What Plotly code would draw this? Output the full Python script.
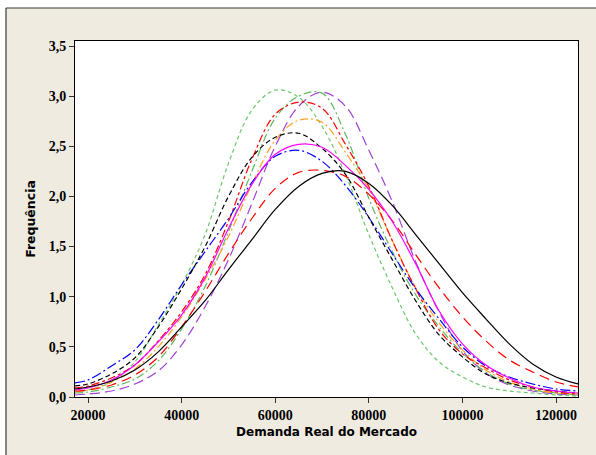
import plotly.graph_objects as go

# Data (x: Demanda Real do Mercado, y: Frequência)
demanda = [17200, 20000, 25000, 30000, 35000, 40000, 45000, 50000, 55000, 60000, 65000,
           70000, 75000, 80000, 85000, 90000, 95000, 100000, 105000, 110000, 115000, 120000, 124700]

black_solid = [0.08, 0.10, 0.16, 0.27, 0.45, 0.70, 0.96, 1.27, 1.57, 1.87, 2.10, 2.23, 2.25, 2.13, 1.91, 1.62, 1.33, 1.04, 0.78, 0.53, 0.33, 0.20, 0.13]
red_longdash = [0.06, 0.07, 0.12, 0.22, 0.40, 0.70, 1.05, 1.43, 1.78, 2.08, 2.24, 2.26, 2.20, 2.02, 1.76, 1.42, 1.09, 0.80, 0.56, 0.37, 0.25, 0.15, 0.10]
magenta_solid = [0.07, 0.09, 0.17, 0.32, 0.55, 0.82, 1.19, 1.68, 2.12, 2.42, 2.52, 2.49, 2.31, 2.07, 1.75, 1.33, 0.86, 0.53, 0.32, 0.19, 0.10, 0.06, 0.04]
blue_dashdot = [0.14, 0.17, 0.31, 0.47, 0.77, 1.12, 1.45, 1.78, 2.14, 2.40, 2.46, 2.35, 2.11, 1.79, 1.43, 1.08, 0.78, 0.50, 0.31, 0.20, 0.13, 0.08, 0.06]
black_dash = [0.11, 0.13, 0.23, 0.39, 0.70, 1.08, 1.50, 2.00, 2.39, 2.59, 2.63, 2.48, 2.22, 1.79, 1.37, 0.96, 0.62, 0.40, 0.23, 0.14, 0.09, 0.06, 0.04]
red_dashdot = [0.09, 0.11, 0.19, 0.32, 0.56, 0.85, 1.22, 1.75, 2.37, 2.82, 2.94, 2.88, 2.52, 2.10, 1.56, 1.08, 0.67, 0.43, 0.29, 0.17, 0.10, 0.05, 0.03]
orange_dashdot = [0.05, 0.07, 0.15, 0.28, 0.50, 0.80, 1.17, 1.60, 2.12, 2.56, 2.76, 2.74, 2.44, 2.07, 1.56, 1.09, 0.74, 0.47, 0.27, 0.15, 0.08, 0.04, 0.03]
green_dashdot = [0.04, 0.05, 0.10, 0.18, 0.36, 0.68, 1.10, 1.65, 2.25, 2.78, 3.00, 3.03, 2.62, 1.98, 1.45, 1.02, 0.70, 0.44, 0.25, 0.13, 0.07, 0.04, 0.02]
green_shortdash = [0.05, 0.07, 0.15, 0.35, 0.72, 1.12, 1.62, 2.33, 2.86, 3.06, 2.99, 2.70, 2.22, 1.62, 1.09, 0.63, 0.35, 0.20, 0.10, 0.06, 0.04, 0.02, 0.01]
purple_longdash = [0.02, 0.03, 0.06, 0.13, 0.26, 0.52, 0.90, 1.37, 1.93, 2.50, 2.90, 3.04, 2.90, 2.46, 1.95, 1.35, 0.85, 0.46, 0.24, 0.12, 0.06, 0.03, 0.02]

x_ticks = [20000, 40000, 60000, 80000, 100000, 120000]
y_ticks = [0.0, 0.5, 1.0, 1.5, 2.0, 2.5, 3.0, 3.5]

series = [
    (purple_longdash, "#A040D8", "10px,5px"),
    (green_shortdash, "#6CC86C", "4px,3px"),
    (green_dashdot, "#5CB85C", "8px,3px,2px,3px"),
    (orange_dashdot, "#FFA020", "8px,3px,2px,3px"),
    (red_dashdot, "#FF0000", "8px,3px,3px,3px"),
    (blue_dashdot, "#0000FF", "10px,3px,2px,3px"),
    (black_dash, "#000000", "5px,3px"),
    (red_longdash, "#FF0000", "10px,6px"),
    (magenta_solid, "#FF00FF", "solid"),
    (black_solid, "#000000", "solid"),
]

fig = go.Figure()
for vals, color, dash in series:
    fig.add_trace(go.Scatter(x=demanda, y=vals, mode="lines",
                             line=dict(color=color, width=1.2, dash=dash, shape="spline", smoothing=1.0),
                             showlegend=False, hoverinfo="skip"))

W, H = 596, 455
L, R, T, B = 75, 18, 41, 58
pw, ph = W - L - R, H - T - B

def px_to_paper_x(px):
    return (px - L) / pw

def py_to_paper_y(py):
    return (H - B - py) / ph

x0 = px_to_paper_x(6)
y1 = py_to_paper_y(8)
shapes = [
    dict(type="rect", xref="paper", yref="paper", x0=px_to_paper_x(-5), x1=x0, y0=-0.5, y1=1.5,
         fillcolor="white", line=dict(width=0), layer="above"),
    dict(type="rect", xref="paper", yref="paper", x0=-0.5, x1=1.5, y0=y1, y1=1.5,
         fillcolor="white", line=dict(width=0), layer="above"),
    dict(type="line", xref="paper", yref="paper", x0=x0, x1=1.5, y0=y1, y1=y1,
         line=dict(color="#3a3a3a", width=1.2), layer="above"),
    dict(type="line", xref="paper", yref="paper", x0=x0, x1=x0, y0=-0.5, y1=y1,
         line=dict(color="#3a3a3a", width=1.2), layer="above"),
]

tickfont = dict(family="Liberation Serif", size=14, color="black", weight="bold")
fig.update_layout(
    width=W, height=H,
    margin=dict(l=L, r=R, t=T, b=B),
    paper_bgcolor="#EFEBE0",
    plot_bgcolor="white",
    separators=",.",
    shapes=shapes,
    xaxis=dict(range=[17200, 124700], tickvals=x_ticks, tickformat="d",
               ticks="outside", ticklen=5, tickwidth=1, tickcolor="#333",
               showline=True, linecolor="black", linewidth=1, mirror=True,
               showgrid=False, zeroline=False, tickfont=tickfont,
               title=dict(text="Demanda Real do Mercado", standoff=5,
                          font=dict(family="DejaVu Sans", size=12, color="black", weight="bold"))),
    yaxis=dict(range=[0, 3.55], tickvals=y_ticks, tickformat=".1f",
               ticks="outside", ticklen=5, tickwidth=1, tickcolor="#333",
               showline=True, linecolor="black", linewidth=1, mirror=True,
               showgrid=False, zeroline=False, tickfont=tickfont,
               title=dict(text="Frequência", standoff=10,
                          font=dict(family="DejaVu Sans", size=12.5, color="black", weight="bold"))),
)

fig.write_html("out.html")
